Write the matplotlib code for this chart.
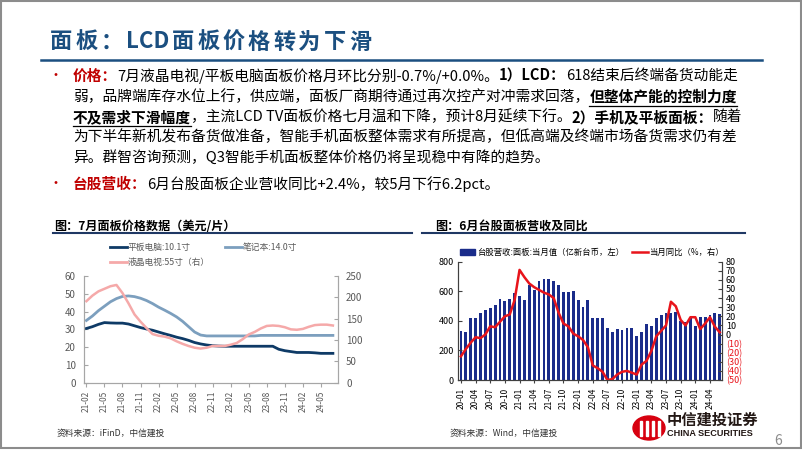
import numpy as np
import pandas as pd
import matplotlib
matplotlib.use("Agg")
import matplotlib.pyplot as plt
from matplotlib.lines import Line2D
from matplotlib.patches import Rectangle, Ellipse

plt.rcParams["font.family"] = ["Noto Sans CJK SC", "DejaVu Sans"]

# ---- data: left chart (monthly panel prices, USD/piece) ----
months_left = pd.period_range("2021-02", "2024-07", freq="M").strftime("%y-%m").tolist()
tablet_10 = [30.5, 31.5, 32.8, 33.8, 33.6, 33.5, 33.5, 33.0, 32.0, 31.0,
             30.2, 29.5, 28.5, 27.5, 26.6, 25.6, 24.8, 23.8, 22.6, 21.8,
             21.2, 20.8, 20.6, 20.5, 20.5, 20.5, 20.5, 20.5, 20.5, 20.5,
             20.5, 20.5, 18.8, 18.0, 17.5, 17.0, 17.0, 17.0, 16.8, 16.5,
             16.5, 16.5]
notebook_14 = [35.0, 37.5, 40.5, 43.0, 45.5, 47.3, 48.5, 48.8, 48.4, 47.5,
               46.2, 44.5, 42.5, 40.8, 39.0, 37.0, 34.5, 31.5, 28.5, 26.8,
               26.3, 26.3, 26.3, 26.3, 26.3, 26.3, 26.3, 26.3, 26.3, 26.6,
               26.6, 26.6, 26.6, 26.6, 26.6, 26.6, 26.6, 26.6, 26.6, 26.6,
               26.6, 26.6]
tv_55 = [191, 204, 214, 220, 226, 229, 210, 186, 160, 143,
         128, 114, 110, 108, 104, 97, 91, 86, 82, 80,
         82, 86, 86, 86, 89, 93, 102, 113, 119, 127,
         133, 134, 133, 130, 125, 124, 126, 131, 135, 136,
         136, 134]

# ---- data: right chart (Taiwan panel makers revenue, YoY) ----
months_right = pd.period_range("2020-01", "2024-06", freq="M").strftime("%y-%m").tolist()
revenue = [334, 325, 418, 420, 450, 475, 486, 508, 549, 531,
           549, 588, 571, 538, 644, 610, 667, 685, 685, 667,
           644, 592, 597, 600, 542, 497, 542, 420, 416, 416,
           350, 325, 343, 341, 351, 351, 297, 323, 380, 362,
           418, 439, 455, 451, 460, 400, 395, 420, 365, 425,
           428, 440, 455, 446]
yoy = [-24, -16, -9, -3, -4, 0, 9, 8, 14, 20,
       22, 38, 71, 63, 56, 52, 49, 46, 44, 40,
       24, 12, 9, 1, -2, -6, -14, -34, -37, -41,
       -50, -49, -44, -41, -40, -42, -44, -33, -29, -18,
       -2, 4, 10, 36, 31, 16, 10, 19, 19, 6,
       12, 19, 8.6, 2.4]

W, H = 802, 451
RED = "#C00000"
TITLE_BLUE = "#1B4F80"
NAVY = "#0E3A66"
STEEL = "#7C9FBE"
PINK = "#F5A9A9"
BAR = "#1A2C8A"
RED_LINE = "#E8141B"
GRAY = "#595959"


def box(x0, y0, x1, y1):
    return [x0 / W, 1 - y1 / H, (x1 - x0) / W, (y1 - y0) / H]


def hline(x0, x1, y, **kw):
    fig.add_artist(Line2D([x0 / W, x1 / W], [1 - y / H, 1 - y / H], **kw))


def ftext(x, y, s, **kw):
    return fig.text(x / W, 1 - y / H, s, **kw)


fig = plt.figure(figsize=(W / 100, H / 100), dpi=100)
renderer = fig.canvas.get_renderer()

# slide frame
fig.add_artist(Rectangle((1 / W, 1 - 448 / H), 800 / W, 447 / H, transform=fig.transFigure,
                         fill=False, edgecolor="#8C8C8C", lw=1.5))

# slide title, drawn piece by piece to get the wide letter spacing
x = 50
for piece in ["面", "板", "：", "LCD", "面", "板", "价", "格", "转", "为", "下", "滑"]:
    t = ftext(x, 42, piece, fontsize=16, fontweight="bold", color=TITLE_BLUE, va="center")
    x += t.get_window_extent(renderer).width + 3
hline(41, 762, 60, color=TITLE_BLUE, lw=1.8)

# bullet text
FS = 10.6


def put_runs(x, y, runs):
    for s, kind in runs:
        color = RED if kind == "key" else "black"
        weight = "bold" if kind in ("key", "bold", "ul") else "normal"
        t = ftext(x, y, s, fontsize=FS, color=color, fontweight=weight, va="center")
        w = t.get_window_extent(renderer).width
        if kind == "ul":
            hline(x, x + w, y + 9, color="black", lw=0.9)
        x += w


lines = [
    (76, [("价格：", "key"), ("7月液晶电视/平板电脑面板价格月环比分别-0.7%/+0.0%。", "n"),
          ("1）LCD：", "bold"), ("618结束后终端备货动能走", "n")]),
    (96.5, [("弱，品牌端库存水位上行，供应端，面板厂商期待通过再次控产对冲需求回落，", "n"),
            ("但整体产能的控制力度", "ul")]),
    (117, [("不及需求下滑幅度", "ul"), ("，主流LCD TV面板价格七月温和下降，预计8月延续下行。", "n"),
           ("2）手机及平板面板：", "bold"), ("随着", "n")]),
    (137, [("为下半年新机发布备货做准备，智能手机面板整体需求有所提高，但低高端及终端市场备货需求仍有差", "n")]),
    (157.5, [("异。群智咨询预测，Q3智能手机面板整体价格仍将呈现稳中有降的趋势。", "n")]),
    (184, [("台股营收：", "key"), ("6月台股面板企业营收同比+2.4%，较5月下行6.2pct。", "n")]),
]
for y, runs in lines:
    put_runs(73, y, runs)
for y in (76, 184):
    ftext(55, y, "•", fontsize=10, color=RED, va="center", ha="center")

# chart headers
ftext(54, 226, "图：7月面板价格数据（美元/片）", fontsize=8.7, fontweight="bold", va="center")
hline(53, 412, 233.5, color="#1F3864", lw=1.5)
ftext(435, 226, "图：6月台股面板营收及同比", fontsize=8.7, fontweight="bold", va="center")
hline(422, 745, 233.5, color="#1F3864", lw=1.5)

# ---- left chart ----
axL = fig.add_axes(box(84, 276, 337.7, 382.7))
xl = np.arange(len(months_left))
axL.plot(xl, tablet_10, color=NAVY, lw=2)
axL.plot(xl, notebook_14, color=STEEL, lw=2)
axL.set_xlim(-0.4, 41.8)
axL.set_ylim(0, 60)
axL.set_yticks(range(0, 61, 10))
axL.set_xticks(xl[::3])
axL.set_xticklabels(months_left[::3], rotation=90)
axLr = axL.twinx()
axLr.plot(xl, tv_55, color=PINK, lw=1.8)
axLr.set_ylim(0, 250)
axLr.set_yticks(range(0, 251, 50))
for a in (axL, axLr):
    a.spines["top"].set_visible(False)
    for side in ("left", "right", "bottom"):
        a.spines[side].set_color("#A6A6A6")
        a.spines[side].set_linewidth(0.8)
    a.tick_params(axis="y", direction="in", length=3, color="#A6A6A6",
                  labelsize=7, labelcolor=GRAY, pad=6)
axL.tick_params(axis="x", direction="out", length=3, color="#A6A6A6",
                labelsize=6, labelcolor=GRAY, pad=3)

# left legend
for (x0, y0, c, lab) in [(110, 247, NAVY, "平板电脑:10.1寸"), (225, 247, STEEL, "笔记本:14.0寸"),
                         (110, 262, PINK, "液晶电视:55寸（右）")]:
    hline(x0, x0 + 17, y0, color=c, lw=2)
    ftext(x0 + 18, y0, lab, fontsize=6.3, color=GRAY, va="center")

ftext(57, 433, "资料来源：iFinD，中信建投", fontsize=6.3, color="#333333", va="center",
      style="italic")

# ---- right chart ----
axB = fig.add_axes(box(458, 261.7, 721.7, 380))
xr = np.arange(len(months_right))
axB.bar(xr, revenue, width=0.58, color=BAR)
axB.set_xlim(-0.6, 53.4)
axB.set_ylim(0, 800)
axB.set_yticks(range(0, 801, 200))
axB.set_xticks(xr[::3])
axB.set_xticklabels(months_right[::3], rotation=90)
axY = axB.twinx()
axY.plot(xr, yoy, color=RED_LINE, lw=1.8)
axY.set_ylim(-50, 80)
yt = list(range(-50, 81, 10))
axY.set_yticks(yt, [f"({-v})" if v < 0 else str(v) for v in yt])
for tk, v in zip(axY.yaxis.get_major_ticks(), yt):
    tk.label2.set_color(RED_LINE if v < 0 else "black")
for a in (axB, axY):
    a.spines["top"].set_visible(False)
    for side in ("left", "right", "bottom"):
        a.spines[side].set_color("#404040")
        a.spines[side].set_linewidth(0.8)
    a.tick_params(axis="y", direction="in", length=3, color="#404040",
                  labelsize=6.5, pad=3)
axB.tick_params(axis="x", direction="out", length=2.5, color="#404040",
                labelsize=6, pad=3)

# right legend
fig.add_artist(Rectangle((460 / W, 1 - 255 / H), 15 / W, 6 / H, transform=fig.transFigure,
                         color=BAR))
ftext(477, 252, "台股营收:面板:当月值（亿新台币，左）", fontsize=6, va="center")
hline(632, 648, 252, color=RED_LINE, lw=1.8)
ftext(649, 252, "当月同比（%，右）", fontsize=6, va="center")

ftext(450, 433, "资料来源：Wind，中信建投", fontsize=6.3, color="#333333", va="center",
      style="italic")

# logo
fig.add_artist(Ellipse((649 / W, 1 - 428 / H), 32 / W, 24 / H, transform=fig.transFigure,
                       color="#D7000F"))
for bx in (640, 646, 652, 658):
    fig.add_artist(Rectangle((bx / W, 1 - 436 / H), 2 / W, 15 / H,
                             transform=fig.transFigure, color="white"))
ftext(667, 420, "中信建投证券", fontsize=11, fontweight="bold", color="#231815", va="center")
ftext(667, 433, "CHINA SECURITIES", fontsize=6.6, fontweight="bold", color="#231815",
      va="center", family=["Liberation Sans", "DejaVu Sans"])
ftext(778, 441, "6", fontsize=10, color="#8C8C8C", va="center", ha="center")

fig.savefig("out.png", dpi=100)
